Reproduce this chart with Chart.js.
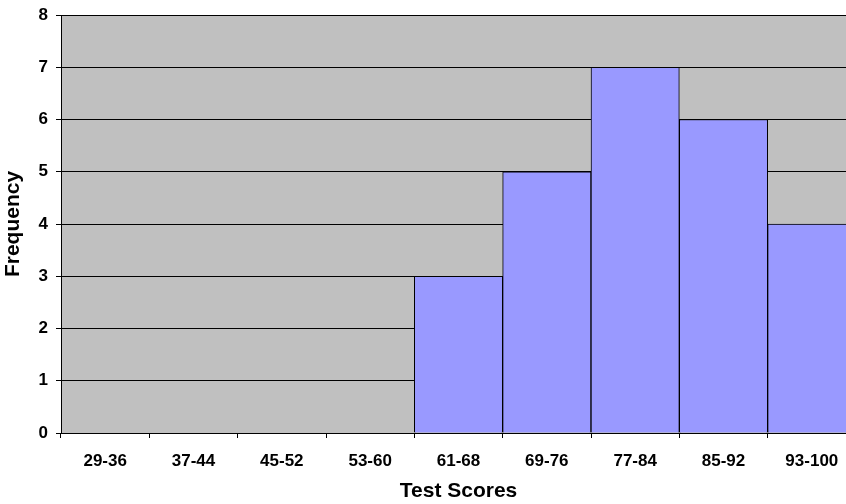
<!DOCTYPE html>
<html>
<head>
<meta charset="utf-8">
<script src="https://cdn.jsdelivr.net/npm/chart.js@4"></script>
<style>
  html, body { margin: 0; padding: 0; background: #fff; overflow: hidden; }
  #wrap { width: 856px; height: 504px; }
</style>
</head>
<body>
<div id="wrap"><canvas id="histChart" width="856" height="504"></canvas></div>
<script>
const scoreBins = ['29-36', '37-44', '45-52', '53-60', '61-68', '69-76', '77-84', '85-92', '93-100'];
const frequencies = [0, 0, 0, 0, 3, 5, 7, 6, 4];
const yTicks = [0, 1, 2, 3, 4, 5, 6, 7, 8];

// grey plot background like the old spreadsheet chart
const plotBackground = {
	id: 'plotBackground',
	beforeDraw(chart) {
		const { ctx, chartArea } = chart;
		ctx.save();
		ctx.fillStyle = '#C0C0C0';
		ctx.fillRect(chartArea.left, chartArea.top, chartArea.right - chartArea.left, chartArea.bottom - chartArea.top);
		ctx.restore();
	}
};

const tickFont = { family: 'Liberation Sans, Arial, sans-serif', size: 17, weight: 'bold' };
const titleFont = { family: 'Liberation Sans, Arial, sans-serif', size: 21, weight: 'bold' };

const ctx = document.getElementById('histChart').getContext('2d');

new Chart(ctx, {
	type: 'bar',
	data: {
		labels: scoreBins,
		datasets: [{
			data: frequencies,
			backgroundColor: '#9999FF',
			borderColor: '#000000',
			borderWidth: 1,
			barPercentage: 1,
			categoryPercentage: 1
		}]
	},
	options: {
		responsive: false,
		animation: false,
		layout: { padding: { top: 15, right: 0, bottom: 0, left: 0 } },
		plugins: {
			legend: { display: false },
			tooltip: { enabled: false }
		},
		scales: {
			x: {
				offset: true,
				grid: {
					offset: true,
					drawOnChartArea: false,
					color: '#000000',
					tickLength: 5
				},
				border: { color: '#000000', width: 1 },
				ticks: { color: '#000000', font: tickFont, padding: 13, maxRotation: 0, autoSkip: false },
				title: { display: true, text: 'Test Scores', color: '#000000', font: titleFont, padding: { top: 0, bottom: 0 } },
				afterFit(scale) {
					scale.height = 71;
					scale.paddingLeft = 0;
					scale.paddingRight = 0;
				}
			},
			y: {
				min: 0,
				max: 8,
				afterBuildTicks(scale) { scale.ticks = yTicks.map(v => ({ value: v })); },
				grid: { color: '#000000', tickLength: 5 },
				border: { color: '#000000', width: 1 },
				ticks: { color: '#000000', font: tickFont, padding: 8 },
				title: { display: true, text: 'Frequency', color: '#000000', font: titleFont, padding: { top: 1, bottom: 0 } },
				afterFit(scale) {
					scale.width = 61;
					scale.paddingTop = 0;
					scale.paddingBottom = 0;
				}
			}
		}
	},
	plugins: [plotBackground]
});
</script>
</body>
</html>
